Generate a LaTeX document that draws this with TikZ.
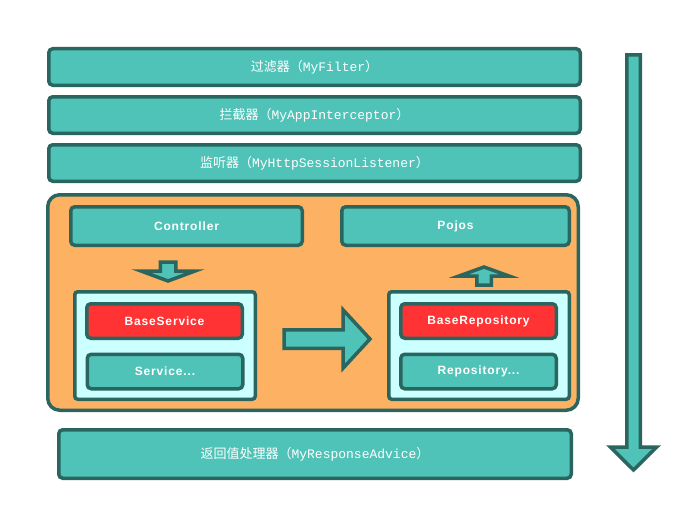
\documentclass[tikz,border=0pt]{standalone}
\usepackage{fontspec}
\usepackage{tikz}
\usetikzlibrary{calc, positioning}

\newfontfamily\cjkfont{Noto Sans CJK SC}
\newfontfamily\codefont{Liberation Mono}
\newfontfamily\labelfont{Liberation Sans}[LetterSpace=7]

\definecolor{boxfill}{HTML}{4FC3B8}
\definecolor{boxline}{HTML}{2A665F}
\definecolor{appfill}{HTML}{FDB163}
\definecolor{groupfill}{HTML}{CCFFFF}
\definecolor{basefill}{HTML}{FF3333}

% chinese name plus class name in full-width brackets
\newcommand\layertext[2]{{\cjkfont #1（}{\codefont #2}{\cjkfont ）}}
% block arrow: from, to, shaft half width, head half width, head length
\newcommand\blockarrow[5]{%
  \coordinate (hb) at ($(#2)!#5!(#1)$);
  \draw[flow] ($(#1)!#3!90:(#2)$) -- ($(hb)!#3!-90:(#1)$) -- ($(hb)!#4!-90:(#1)$)
        -- (#2) -- ($(hb)!#4!90:(#1)$) -- ($(hb)!#3!90:(#1)$)
        -- ($(#1)!#3!-90:(#2)$) -- cycle;}

\begin{document}
\begin{tikzpicture}[x=1pt, y=-1pt,
node distance = 8pt,
     base/.style = {draw=boxline, line width=3.5pt, rounded corners=4pt,
                    fill=boxfill, text=white, align=center, inner sep=0pt},
    layer/.style = {base, minimum width=531.5pt, minimum height=36.5pt,
                    font=\fontsize{13}{15}\selectfont},
   module/.style = {base, minimum height=38.5pt,
                    font=\labelfont\bfseries\fontsize{12}{14}\selectfont},
    inner/.style = {module, minimum width=155.5pt, minimum height=34.5pt},
 baseitem/.style = {inner, fill=basefill},
    group/.style = {base, fill=groupfill, rounded corners=3pt,
                    minimum width=180.5pt, minimum height=107.5pt},
      app/.style = {base, fill=appfill, rounded corners=12pt,
                    minimum width=530.5pt, minimum height=215.5pt},
     flow/.style = {draw=boxline, line width=3.5pt, fill=boxfill, line join=miter}
                    ]
\path[use as bounding box, fill=white] (0,0) rectangle (690,511);

 % request chain
\node (filter)      [layer] at (314.5,67) {\layertext{过滤器}{MyFilter}};
\node (interceptor) [layer, below=of filter]      {\layertext{拦截器}{MyAppInterceptor}};
\node (listener)    [layer, below=of interceptor] {\layertext{监听器}{MyHttpSessionListener}};
\node (app)         [app, below=10pt of listener, xshift=-1.5pt] {};

 % application layers
\node (ctrl)      [module, minimum width=231.5pt] at (186.5,226) {Controller};
\node (pojos)     [module, minimum width=227.5pt] at (455.5,226) {Pojos};
\node (svcgroup)  [group] at (165,345.5) {};
\node (repogroup) [group] at (479,345.5) {};
\node (basesvc)   [baseitem] at (164.5,321)   {BaseService};
\node (svc)       [inner]    at (165,371.5)   {Service...};
\node (baserepo)  [baseitem] at (478.5,321)   {BaseRepository};
\node (repo)      [inner]    at (478.5,371.5) {Repository...};

\node (advice) [layer, minimum width=512.5pt, minimum height=48.5pt,
                below=16pt of app, xshift=2pt] {\layertext{返回值处理器}{MyResponseAdvice}};

 % arrows
\coordinate (ctrl_out)  at (168,262);
\coordinate (svc_in)    at (168,281);
\coordinate (svc_out)   at (284,339);
\coordinate (repo_in)   at (370,339);
\coordinate (repo_out)  at (484,285);
\coordinate (pojos_in)  at (484,267);
\coordinate (flow_top)  at (633.5,55);
\coordinate (flow_end)  at (633.5,470);

\blockarrow{ctrl_out}{svc_in}{7.75pt}{27pt}{10pt}
\blockarrow{svc_out}{repo_in}{9.25pt}{29.25pt}{27pt}
\blockarrow{repo_out}{pojos_in}{7.25pt}{25pt}{9pt}
\blockarrow{flow_top}{flow_end}{6.75pt}{23.25pt}{23pt}
\end{tikzpicture}
\end{document}
